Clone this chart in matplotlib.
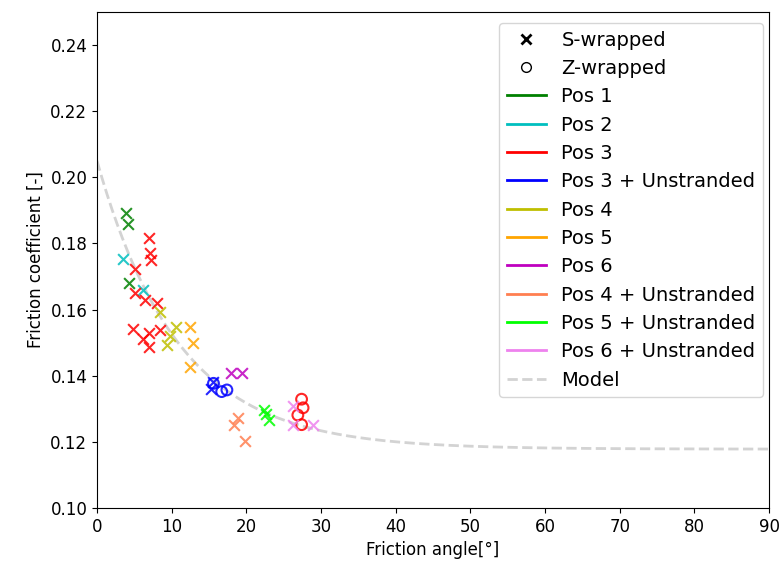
import numpy as np
import matplotlib
matplotlib.use('Agg')
import matplotlib.pyplot as plt
from matplotlib.lines import Line2D

plt.rcParams['font.size'] = 12

# Measured points: (friction angle [deg], friction coefficient [-])
pos1_s_angle = [3.9, 4.2, 4.3]
pos1_s_mu = [0.1891, 0.1859, 0.1680]

pos2_s_angle = [3.5, 6.2]
pos2_s_mu = [0.1752, 0.1659]

pos3_s_angle = [6.9, 7.1, 7.3, 5.1, 5.1, 6.4, 8.0, 4.8, 7.0, 8.4, 6.2, 6.9]
pos3_s_mu = [0.1816, 0.1770, 0.1750, 0.1722, 0.1649, 0.1629, 0.1619,
             0.1540, 0.1530, 0.1538, 0.1510, 0.1488]
pos3_z_angle = [27.4, 27.6, 26.9, 27.4]
pos3_z_mu = [0.1329, 0.1303, 0.1281, 0.1252]

pos3u_s_angle = [15.5, 15.3]
pos3u_s_mu = [0.1382, 0.1360]
pos3u_z_angle = [15.6, 16.7, 17.4]
pos3u_z_mu = [0.1377, 0.1352, 0.1357]

pos4_s_angle = [8.4, 10.6, 9.8, 9.4]
pos4_s_mu = [0.1594, 0.1548, 0.1520, 0.1494]

pos5_s_angle = [12.5, 12.9, 12.4]
pos5_s_mu = [0.1546, 0.1500, 0.1427]

pos6_s_angle = [18.0, 19.4]
pos6_s_mu = [0.1407, 0.1407]

pos4u_s_angle = [18.9, 18.4, 19.8]
pos4u_s_mu = [0.1271, 0.1251, 0.1204]

pos5u_s_angle = [22.4, 22.7, 23.0]
pos5u_s_mu = [0.1296, 0.1285, 0.1267]

pos6u_s_angle = [26.2, 26.2, 28.9]
pos6u_s_mu = [0.1307, 0.1252, 0.1252]

# Model parameters: mu = mu_inf + d_mu * exp(-angle / angle_c)
mu_inf = 0.1178
d_mu = 0.0872
angle_c = 10.9

fig, ax = plt.subplots(figsize=(7.84, 5.66), dpi=100)
fig.subplots_adjust(left=0.1237, right=0.9809, top=0.9788, bottom=0.1025)

model_angle = np.linspace(0, 90, 400)
model_mu = mu_inf + d_mu * np.exp(-model_angle / angle_c)
ax.plot(model_angle, model_mu, '--', color='lightgray', lw=2, zorder=1)

ms = 60
groups = [
    ('Pos 1', 'g', pos1_s_angle, pos1_s_mu, [], []),
    ('Pos 2', 'c', pos2_s_angle, pos2_s_mu, [], []),
    ('Pos 3', 'r', pos3_s_angle, pos3_s_mu, pos3_z_angle, pos3_z_mu),
    ('Pos 3 + Unstranded', 'b', pos3u_s_angle, pos3u_s_mu, pos3u_z_angle, pos3u_z_mu),
    ('Pos 4', 'y', pos4_s_angle, pos4_s_mu, [], []),
    ('Pos 5', 'orange', pos5_s_angle, pos5_s_mu, [], []),
    ('Pos 6', 'm', pos6_s_angle, pos6_s_mu, [], []),
    ('Pos 4 + Unstranded', 'coral', pos4u_s_angle, pos4u_s_mu, [], []),
    ('Pos 5 + Unstranded', 'lime', pos5u_s_angle, pos5u_s_mu, [], []),
    ('Pos 6 + Unstranded', 'violet', pos6u_s_angle, pos6u_s_mu, [], []),
]

handles = [
    Line2D([], [], marker='x', color='k', ls='none', markersize=7, mew=2, label='S-wrapped'),
    Line2D([], [], marker='o', color='k', mfc='none', ls='none', markersize=7, label='Z-wrapped'),
]
for name, col, sx, sy, zx, zy in groups:
    ax.scatter(sx, sy, marker='x', s=ms, color=col, lw=1.5, alpha=0.85, zorder=3)
    if zx:
        ax.scatter(zx, zy, marker='o', s=ms, facecolors='none', edgecolors=col,
                   lw=1.5, alpha=0.85, zorder=3)
    handles.append(Line2D([], [], color=col, lw=2, label=name))
handles.append(Line2D([], [], color='lightgray', ls='--', lw=2, label='Model'))

ax.set_xlim(0, 90)
ax.set_ylim(0.10, 0.25)
ax.set_yticks(np.arange(0.10, 0.241, 0.02))
ax.set_xlabel('Friction angle[°]')
ax.set_ylabel('Friction coefficient [-]')
ax.legend(handles=handles, loc='upper right', fontsize=14, labelspacing=0.48,
          borderaxespad=0.3, bbox_to_anchor=(1, 0.99))

plt.savefig('out.png', dpi=100)
